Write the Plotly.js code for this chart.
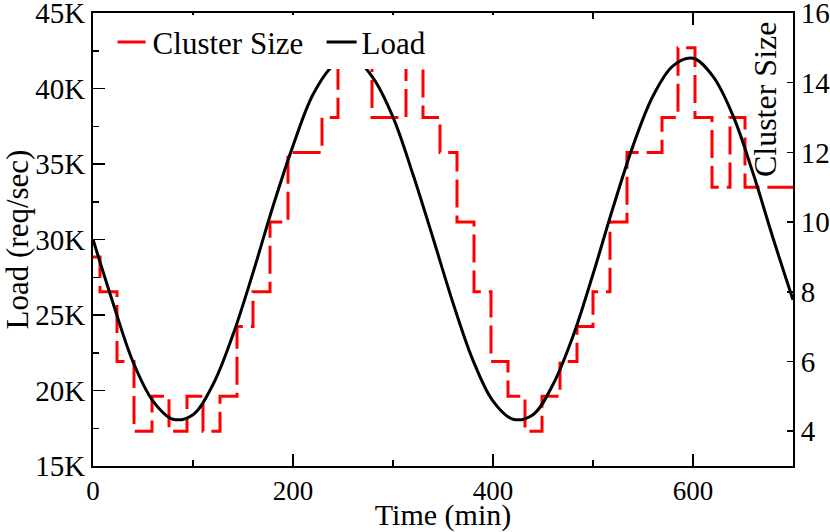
<!DOCTYPE html>
<html>
<head>
<meta charset="utf-8">
<script src="https://cdn.plot.ly/plotly-3.0.1.min.js"></script>
<style>
  html, body { margin: 0; padding: 0; background: #fff; }
  #chart { width: 830px; height: 532px; }
</style>
</head>
<body>
<div id="chart"></div>
<script>
// load curve, read every 20 min (req/sec)
const time = [0, 20, 40, 60, 80, 100, 120, 140, 160, 180, 200, 220, 240, 260, 280, 300, 320, 340,
  360, 380, 400, 420, 440, 460, 480, 500, 520, 540, 560, 580, 600, 620, 640, 660, 680, 700];
const load = [30000, 25800, 21900, 19300, 18100, 18400, 20400, 23700, 27800, 32200, 36200, 39600,
  41500, 42000, 40700, 38100, 34300, 30100, 25800, 22000, 19300, 18100, 18400, 20400, 23600,
  27700, 32100, 36200, 39500, 41500, 42000, 40800, 38200, 34400, 30100, 26000];

// cluster size, one value per step start (min)
const stepTime = [0, 7, 24, 41, 59, 76, 94, 110, 127, 144, 160, 177, 195, 229, 245, 279, 313, 330,
  347, 364, 381, 398, 415, 432, 449, 467, 484, 500, 517, 534, 569, 585, 602, 619, 637, 652, 700];
const clusterSize = [9, 8, 6, 4, 5, 4, 5, 4, 5, 7, 8, 10, 12, 13, 15, 13, 15, 13,
  12, 10, 8, 6, 5, 4, 5, 6, 7, 8, 10, 12, 13, 15, 13, 11, 13, 11, 11];

const loadTicks = [15000, 20000, 25000, 30000, 35000, 40000, 45000];
const loadTickText = ["15K", "20K", "25K", "30K", "35K", "40K", "45K"];

const serif = "Liberation Serif, Times New Roman, serif";

const traces = [
  {
    type: "scatter",
    mode: "lines",
    name: "Cluster Size",
    x: stepTime,
    y: clusterSize,
    yaxis: "y",
    line: { color: "#ff0000", width: 3, shape: "hv", dash: "28px,8px" },
  },
  {
    type: "scatter",
    mode: "lines",
    name: "Load",
    x: time,
    y: load,
    yaxis: "y2",
    line: { color: "#000000", width: 3, shape: "spline", smoothing: 1 },
  },
];

const layout = {
  width: 830,
  height: 532,
  margin: { l: 93, r: 37, t: 13, b: 66 },
  paper_bgcolor: "#fff",
  plot_bgcolor: "#fff",
  font: { family: serif, color: "#000" },
  showlegend: true,
  legend: {
    orientation: "h",
    x: 0.028, y: 0.995, xanchor: "left", yanchor: "top",
    bgcolor: "#fff",
    font: { family: serif, size: 31 },
    itemwidth: 30,
    entrywidth: 164,
    tracegroupgap: 0,
  },
  xaxis: {
    range: [0, 700],
    dtick: 200,
    tick0: 0,
    ticks: "inside",
    ticklen: 12,
    tickwidth: 1.5,
    tickcolor: "#000",
    minor: { dtick: 100, ticks: "inside", ticklen: 6, tickwidth: 1.5, tickcolor: "#000" },
    showline: true,
    linewidth: 2,
    linecolor: "#000",
    mirror: "ticks",
    showgrid: false,
    zeroline: false,
    ticklabeloverflow: "allow",
    tickfont: { family: serif, size: 27 },
    title: { text: "Time (min)", font: { family: serif, size: 30 }, standoff: 3 },
  },
  // cluster size axis on the right
  yaxis: {
    side: "right",
    range: [3, 16],
    dtick: 2,
    tick0: 0,
    ticks: "inside",
    ticklen: 6,
    tickwidth: 1.5,
    tickcolor: "#000",
    showline: true,
    linewidth: 2,
    linecolor: "#000",
    showgrid: false,
    zeroline: false,
    ticklabeloverflow: "allow",
    tickfont: { family: serif, size: 29 },
  },
  // load axis on the left, drawn above so the black curve sits on top
  yaxis2: {
    overlaying: "y",
    side: "left",
    range: [15000, 45000],
    tickvals: loadTicks,
    ticktext: loadTickText,
    ticks: "inside",
    ticklen: 12,
    tickwidth: 1.5,
    tickcolor: "#000",
    minor: { dtick: 2500, ticks: "inside", ticklen: 6, tickwidth: 1.5, tickcolor: "#000" },
    showline: true,
    linewidth: 2,
    linecolor: "#000",
    showgrid: false,
    zeroline: false,
    ticklabeloverflow: "allow",
    tickfont: { family: serif, size: 29 },
    title: { text: "Load (req/sec)", font: { family: serif, size: 31 }, standoff: 2 },
  },
  annotations: [
    {
      text: "Cluster Size",
      xref: "paper", yref: "paper",
      x: 0.96, y: 0.81,
      xanchor: "center", yanchor: "middle",
      textangle: -90,
      showarrow: false,
      font: { family: serif, size: 32 },
    },
  ],
};

Plotly.newPlot("chart", traces, layout, { displayModeBar: false, staticPlot: true });
</script>
</body>
</html>
